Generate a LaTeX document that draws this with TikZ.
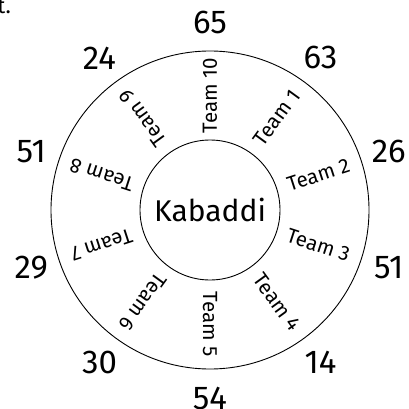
\documentclass[tikz,border=0pt]{standalone}
\usepackage{fontspec}
\setmainfont{Fira Sans}
\begin{document}
\begin{tikzpicture}[x=1pt,y=-1pt,
  team/.style={font=\fontsize{20.5}{20.5}\selectfont, inner sep=0pt},
  score/.style={font=\fontsize{33}{33}\selectfont, inner sep=0pt},
  ring/.style={draw, line width=0.9pt, circle, inner sep=0pt},
  frag/.style={font=\fontsize{22}{22}\selectfont, inner sep=0pt}]
\useasboundingbox (0,0) rectangle (408,409);
\coordinate (c) at (210,210);
\node[ring, minimum size=318pt] (outer) at (c) {};
\node[ring, minimum size=140pt, font=\fontsize{30}{30}\selectfont] (inner) at (c) {Kabaddi};
\foreach \i/\s in {1/63,2/26,3/51,4/14,5/54,6/30,7/29,8/51,9/24,10/65}{
  \pgfmathsetmacro\a{90-36*\i}
  \node[team, rotate=\a] (t\i) at ([shift={(\a:114pt)}]c) {Team \i};
  \node[score] (s\i) at ([shift={(\a:188pt)}]c) {\s};
}
\node[frag, anchor=base east] (frag) at (11,14) {t.};
\end{tikzpicture}
\end{document}
